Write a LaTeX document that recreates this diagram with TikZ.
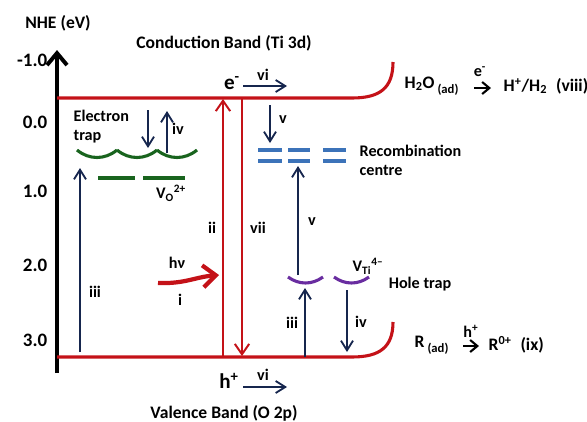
\documentclass[tikz,border=0pt]{standalone}
\usepackage{fontspec}
\setmainfont{Carlito}
\usetikzlibrary{arrows.meta}
\definecolor{bandred}{RGB}{196,18,24}
\definecolor{arrownavy}{RGB}{22,38,78}
\definecolor{trapgreen}{RGB}{25,100,30}
\definecolor{recblue}{RGB}{60,115,185}
\definecolor{holepurple}{RGB}{105,45,160}
\newcommand{\adsorb}{\raisebox{-0.55ex}{\fontsize{9}{10}\selectfont (ad)}}

\begin{document}
\begin{tikzpicture}[
    x=0.025cm, y=-0.025cm,
    lbl/.style={font=\bfseries\fontsize{11.5}{13.5}\selectfont, inner sep=1pt},
    title/.style={font=\bfseries\fontsize{12.5}{15}\selectfont, inner sep=1pt},
    ticklbl/.style={font=\bfseries\fontsize{13.5}{15}\selectfont, inner sep=1pt, anchor=east},
    carrier/.style={font=\bfseries\fontsize{15}{17}\selectfont, inner sep=1pt},
    rxn/.style={font=\bfseries\fontsize{12.5}{15}\selectfont, inner sep=1pt, anchor=west},
    band/.style={bandred, line width=2.2pt},
    redarrow/.style={bandred, line width=1.4pt, -{Straight Barb[length=2.6mm,width=3.6mm]}},
    navyarrow/.style={arrownavy, line width=1.3pt, -{Straight Barb[length=2.4mm,width=3mm]}},
    rxnarrow/.style={black, line width=1.5pt, -{Straight Barb[length=1.8mm,width=3mm]}},
    greenarc/.style={trapgreen, line width=2.2pt},
    greendash/.style={trapgreen, line width=2.6pt},
    recdash/.style={recblue, line width=2.6pt},
    purplearc/.style={holepurple, line width=2.2pt}
]
    \useasboundingbox (0,0) rectangle (587,422);

    % Energy axis
    \coordinate (axisbot) at (57,373);
    \coordinate (axistop) at (57,50);
    \draw[black, line width=2.8pt, -{Straight Barb[length=3mm,width=5mm]}] (axisbot) -- (axistop);
    \node[title] (nhe) at (58,23) {NHE (eV)};
    \foreach \v/\yy in {-1.0/60, 0.0/122, 1.0/191, 2.0/265, 3.0/340}
        \node[ticklbl] (tick\yy) at (49,\yy) {\v};

    % Bands
    \coordinate (cbleft) at (57,98);
    \coordinate (cbtip) at (393,62);
    \coordinate (vbleft) at (57,357);
    \coordinate (vbtip) at (393,322);
    \draw[band] (cbleft) -- (352,98) .. controls (380,98) and (393,88) .. (cbtip);
    \draw[band] (vbleft) -- (352,357) .. controls (380,357) and (393,347) .. (vbtip);
    \node[title] (cbname) at (224,43) {Conduction Band (Ti 3d)};
    \node[title] (vbname) at (224,413) {Valence Band (O 2p)};

    % Excitation and recombination
    \coordinate (iibot) at (223,357);
    \coordinate (iitop) at (223,99);
    \coordinate (viitop) at (242,98);
    \coordinate (viibot) at (242,356);
    \draw[redarrow] (iibot) -- (iitop);
    \draw[redarrow] (viitop) -- (viibot);
    \node[lbl] (iilbl) at (212,228) {ii};
    \node[lbl] (viilbl) at (258,228) {vii};
    \coordinate (hvstart) at (158,283);
    \coordinate (hvend) at (219,275);
    \draw[bandred, line width=3pt, -{Straight Barb[length=3.2mm,width=5.5mm]}]
        (hvstart) .. controls (185,284) and (195,277) .. (hvend);
    \node[lbl] (hvlbl) at (177,263) {hν};
    \node[lbl] (ilbl) at (180,300) {i};

    % Carrier migration
    \node[carrier] (elec) at (232,83) {e\textsuperscript{-}};
    \coordinate (evia) at (243,86);
    \coordinate (evib) at (287,86);
    \draw[navyarrow] (evia) -- (evib);
    \node[lbl] (evilbl) at (263,75) {vi};
    \node[carrier] (hole) at (229,381) {h\textsuperscript{+}};
    \coordinate (hvia) at (243,387);
    \coordinate (hvib) at (287,387);
    \draw[navyarrow] (hvia) -- (hvib);
    \node[lbl] (hvilbl) at (263,375) {vi};

    % Electron trap
    \foreach \a in {77,117,157}
        \draw[greenarc] (\a,150) .. controls (\a+12,160) and (\a+28,160) .. (\a+40,150);
    \draw[greendash] (98,178) -- (135,178);
    \draw[greendash] (143,178) -- (185,178);
    \node[lbl, align=left, anchor=west] (etrap) at (72,127) {Electron\\trap};
    \node[lbl] (vo) at (171,193) {V\textsubscript{O}\textsuperscript{2+}};
    \coordinate (tdowna) at (148,110);
    \coordinate (tdownb) at (148,148);
    \coordinate (tupa) at (167,153);
    \coordinate (tupb) at (167,111);
    \draw[navyarrow] (tdowna) -- (tdownb);
    \draw[navyarrow] (tupa) -- (tupb);
    \node[lbl] (ivtop) at (178,129) {iv};
    \coordinate (iiila) at (80,352);
    \coordinate (iiilb) at (80,168);
    \draw[navyarrow] (iiila) -- (iiilb);
    \node[lbl] (iiileft) at (95,292) {iii};

    % Recombination centre
    \foreach \xa/\xb in {258/282, 288/310, 323/346}
        \foreach \yy in {150,161}
            \draw[recdash] (\xa,\yy) -- (\xb,\yy);
    \node[lbl, align=left, anchor=west] (recomb) at (358,160) {Recombination\\centre};
    \coordinate (vdowna) at (270,105);
    \coordinate (vdownb) at (270,143);
    \draw[navyarrow] (vdowna) -- (vdownb);
    \node[lbl] (vtop) at (283,120) {v};
    \coordinate (vupa) at (298,275);
    \coordinate (vupb) at (298,166);
    \draw[navyarrow] (vupa) -- (vupb);
    \node[lbl] (vmid) at (312,222) {v};

    % Hole trap
    \draw[purplearc] (288,277) .. controls (299,285) and (312,285) .. (323,277);
    \draw[purplearc] (334,277) .. controls (345,285) and (358,285) .. (369,277);
    \node[lbl] (vti) at (368,266) {V\textsubscript{Ti}\textsuperscript{4--}};
    \node[lbl] (htrap) at (420,284) {Hole trap};
    \coordinate (hiiia) at (305,357);
    \coordinate (hiiib) at (305,288);
    \draw[navyarrow] (hiiia) -- (hiiib);
    \node[lbl] (iiiright) at (292,323) {iii};
    \coordinate (hiva) at (347,290);
    \coordinate (hivb) at (347,352);
    \draw[navyarrow] (hiva) -- (hivb);
    \node[lbl] (ivbot) at (361,322) {iv};

    % Surface reactions
    \node[rxn] (h2o) at (403,86) {H\textsubscript{2}O\,\adsorb};
    \node[rxn] (hprod) at (502,86) {H\textsuperscript{+}/H\textsubscript{2}\; (viii)};
    \coordinate (rxnea) at (474,88);
    \coordinate (rxneb) at (491,88);
    \draw[rxnarrow] (rxnea) -- (rxneb);
    \node[lbl] (rxnelbl) at (480,72) {e\textsuperscript{-}};
    \node[rxn] (rad) at (413,345) {R\,\adsorb};
    \node[rxn] (rprod) at (487,345) {R\textsuperscript{0+}\; (ix)};
    \coordinate (rxnha) at (463,346);
    \coordinate (rxnhb) at (479,346);
    \draw[rxnarrow] (rxnha) -- (rxnhb);
    \node[lbl] (rxnhlbl) at (471,331) {h\textsuperscript{+}};
\end{tikzpicture}
\end{document}
